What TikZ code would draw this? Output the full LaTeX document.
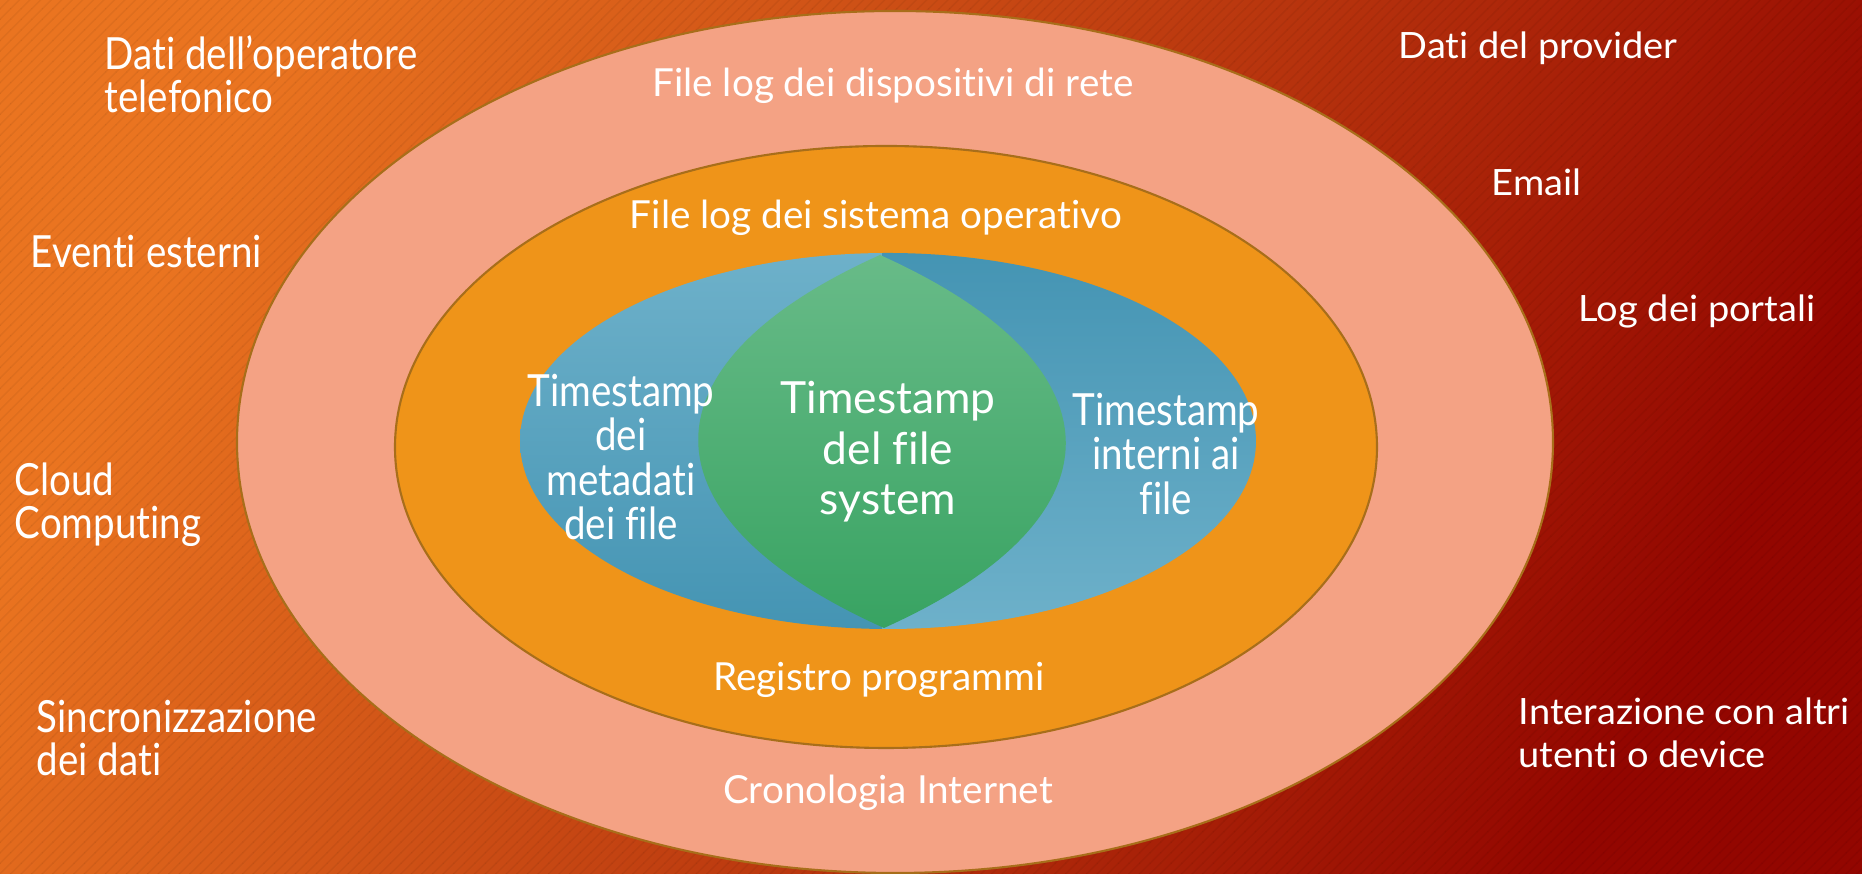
\documentclass[tikz,border=0pt]{standalone}
\usepackage{fontspec}
\setmainfont[Ligatures=NoCommon]{Lato}
\newfontfamily\narrowfont[FakeStretch=0.87, Ligatures=NoCommon]{Lato}
\newfontfamily\widefont[FakeStretch=1.05, Ligatures=NoCommon]{Lato}
\usetikzlibrary{positioning,patterns}

\definecolor{bgtop}{HTML}{EA7420}
\definecolor{bgmid}{HTML}{CC3E0E}
\definecolor{bgbottom}{HTML}{930600}
\definecolor{ringline}{HTML}{A86E1A}
\definecolor{pinkring}{HTML}{F4A284}
\definecolor{orangering}{HTML}{EF9419}
\definecolor{bluelight}{HTML}{6EB1CA}
\definecolor{bluedark}{HTML}{4494B3}
\definecolor{greentop}{HTML}{68BB88}
\definecolor{greenbottom}{HTML}{38A362}

\tikzset{
  ring/.style={draw=ringline, line width=0.6pt},
  outlabel/.style={text=white, inner sep=0pt, anchor=west, align=left,
    font=\narrowfont\fontsize{12.6}{12.2}\selectfont},
  widelabel/.style={text=white, inner sep=0pt, anchor=west, align=left,
    font=\widefont\fontsize{10.3}{12.2}\selectfont},
  ringlabel/.style={text=white, inner sep=0pt,
    font=\fontsize{11}{13}\selectfont},
  coretext/.style={text=white, inner sep=0pt, align=center,
    font=\narrowfont\fontsize{12.6}{12.7}\selectfont},
  maintext/.style={text=white, inner sep=0pt, align=center,
    font=\fontsize{12.6}{14.4}\selectfont}
}

\begin{document}
\begin{tikzpicture}[x=0.01cm, y=-0.01cm]
  \useasboundingbox (0,0) rectangle (1862,874);
  \shade[shading=axis, top color=bgtop, middle color=bgmid, bottom color=bgbottom,
    shading angle=62] (0,0) rectangle (1862,874);
  \fill[pattern=north east lines, pattern color=black, opacity=0.05]
    (0,0) rectangle (1862,874);

  \coordinate (C1) at (895,442); % outer ring
  \coordinate (C2) at (886,447); % orange ring
  \coordinate (C3) at (888,441); % blue core
  \coordinate (LT) at (880,255); % lens tip top
  \coordinate (LB) at (884,628); % lens tip bottom

  \fill[pinkring] (C1) ellipse [x radius=658, y radius=431];
  \draw[ring] (C1) ellipse [x radius=658, y radius=431];
  \fill[orangering] (C2) ellipse [x radius=491, y radius=301];
  \draw[ring] (C2) ellipse [x radius=491, y radius=301];

  \begin{scope}
    \clip (C3) ellipse [x radius=368, y radius=188];
    \shade[top color=bluelight, bottom color=bluedark] (500,250) rectangle (882,632);
    \shade[top color=bluedark, bottom color=bluelight] (882,250) rectangle (1270,632);
  \end{scope}

  \shade[top color=greentop, bottom color=greenbottom]
    (LT) .. controls (635,365) and (639,518) .. (LB)
         .. controls (1129,518) and (1125,365) .. (LT) -- cycle;

  % labels outside the rings
  \node[outlabel] (operatore) at (104,74) {Dati dell’operatore\\telefonico};
  \node[outlabel] (eventi) at (30,252) {Eventi esterni};
  \node[outlabel] (cloud) at (14,505) {Cloud\\Computing};
  \node[outlabel] (sincro) at (36,738) {Sincronizzazione\\dei dati};
  \node[widelabel] (provider) at (1398,48) {Dati del provider};
  \node[widelabel] (email) at (1491,182) {Email};
  \node[widelabel] (portali) at (1578,311) {Log dei portali};
  \node[widelabel] (interazione) at (1518,733) {Interazione con altri\\utenti o device};

  % labels on the rings
  \node[ringlabel] (rete) at (893,86) {File log dei dispositivi di rete};
  \node[ringlabel] (sistema) at (876,218) {File log dei sistema operativo};
  \node[ringlabel] (registro) at (879,680) {Registro programmi};
  \node[ringlabel] (cronologia) at (888,793) {Cronologia Internet};

  % core
  \node[coretext] (metadati) at (621,457) {Timestamp\\dei\\metadati\\dei file};
  \node[maintext] (filesystem) at (888,452) {Timestamp\\del file\\system};
  \node[coretext] (interni) at (1166,454) {Timestamp\\interni ai\\file};
\end{tikzpicture}
\end{document}
